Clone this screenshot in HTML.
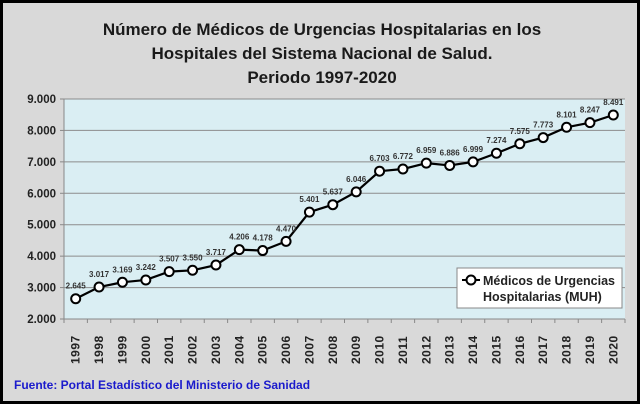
<!DOCTYPE html>
<html><head><meta charset="utf-8"><style>
html,body{margin:0;padding:0;}
body{width:640px;height:404px;overflow:hidden;background:#fff;font-family:"Liberation Sans",sans-serif;}
</style></head><body>
<svg id="chart" width="640" height="404" xmlns="http://www.w3.org/2000/svg" font-family="Liberation Sans, sans-serif">
<rect x="1.5" y="1.5" width="637" height="401" fill="#d9d9d9" stroke="#000" stroke-width="3"/>
<g font-weight="bold" font-size="17" fill="#1a1a1a" text-anchor="middle">
<text x="322" y="35">Número de Médicos de Urgencias Hospitalarias en los</text>
<text x="322" y="59">Hospitales del Sistema Nacional de Salud.</text>
<text x="322" y="83">Periodo 1997-2020</text>
</g>
<rect x="64" y="99" width="561" height="220" fill="#daeef3"/>
<g id="grid"></g>
<g id="xaxis"></g>
<g id="series"></g>
<g>
<rect x="457" y="268" width="165" height="40" fill="#fff" stroke="#888" stroke-width="1"/>
<line x1="462" y1="280" x2="480" y2="280" stroke="#000" stroke-width="2"/>
<circle cx="471" cy="280" r="4.5" fill="#fff" stroke="#000" stroke-width="2"/>
<text x="483" y="285" font-size="12.5" font-weight="bold" fill="#222">Médicos de Urgencias</text>
<text x="483" y="301" font-size="12.5" font-weight="bold" fill="#222">Hospitalarias (MUH)</text>
</g>
<text x="14" y="389" font-size="12" font-weight="bold" fill="#1a1acc">Fuente: Portal Estadístico  del Ministerio de Sanidad</text>
</svg>
<script>
const years=["1997","1998","1999","2000","2001","2002","2003","2004","2005","2006","2007","2008","2009","2010","2011","2012","2013","2014","2015","2016","2017","2018","2019","2020"];
const values=[2645,3017,3169,3242,3507,3550,3717,4206,4178,4470,5401,5637,6046,6703,6772,6959,6886,6999,7274,7575,7773,8101,8247,8491];
const valueLabels=["2.645","3.017","3.169","3.242","3.507","3.550","3.717","4.206","4.178","4.470","5.401","5.637","6.046","6.703","6.772","6.959","6.886","6.999","7.274","7.575","7.773","8.101","8.247","8.491"];
const yTicks=[2000,3000,4000,5000,6000,7000,8000,9000];
const yTickLabels=["2.000","3.000","4.000","5.000","6.000","7.000","8.000","9.000"];
const NS="http://www.w3.org/2000/svg";
const L=64,R=625,T=99,B=319,ymin=2000,ymax=9000;
const band=(R-L)/years.length;
const xs=i=>L+band*(i+0.5);
const ys=v=>B-(v-ymin)/(ymax-ymin)*(B-T);
function mk(tag,attrs,parent,text){const e=document.createElementNS(NS,tag);for(const k in attrs)e.setAttribute(k,attrs[k]);if(text!==undefined)e.textContent=text;parent.appendChild(e);return e;}
const grid=document.getElementById('grid');
yTicks.forEach((t,i)=>{
  const y=ys(t);
  if(i>0){const g=mk('line',{x1:L,x2:R,y1:y,y2:y,stroke:'#8c8c8c','stroke-width':1},grid);
  
  }
  mk('line',{x1:L-4,x2:L,y1:y,y2:y,stroke:'#888'},grid);
  const tx=mk('text',{x:L-8,y:y+4,'text-anchor':'end','font-size':11.5,'font-weight':'bold',fill:'#222'},grid,yTickLabels[i]);
  
  
});
mk('line',{x1:L,x2:L,y1:T,y2:B,stroke:'#888'},grid);
const xa=document.getElementById('xaxis');
mk('line',{x1:L,x2:R,y1:B,y2:B,stroke:'#888'},xa);
years.forEach((yr,i)=>{
  const x0=L+band*i;
  mk('line',{x1:x0,x2:x0,y1:B,y2:B+4,stroke:'#888'},xa);
  const x=xs(i);
  const t=mk('text',{x:0,y:0,transform:`translate(${x+4},${B+45}) rotate(-90)`,'font-size':12,'font-weight':'bold',fill:'#222','letter-spacing':'0.5'},xa,yr);
  
  
});
mk('line',{x1:R,x2:R,y1:B,y2:B+4,stroke:'#888'},xa);
const s=document.getElementById('series');
const pts=values.map((v,i)=>xs(i)+','+ys(v)).join(' ');
const pl=mk('polyline',{points:pts,fill:'none',stroke:'#000','stroke-width':2.2},s);


values.forEach((v,i)=>{
  const c=mk('circle',{cx:xs(i),cy:ys(v),r:4.5,fill:'#fff',stroke:'#000','stroke-width':2},s);
  
  
  const lb=mk('text',{x:xs(i),y:ys(v)-10,'text-anchor':'middle','font-size':8,'font-weight':'bold',fill:'#333'},s,valueLabels[i]);
  
  
});
</script>
</body></html>
